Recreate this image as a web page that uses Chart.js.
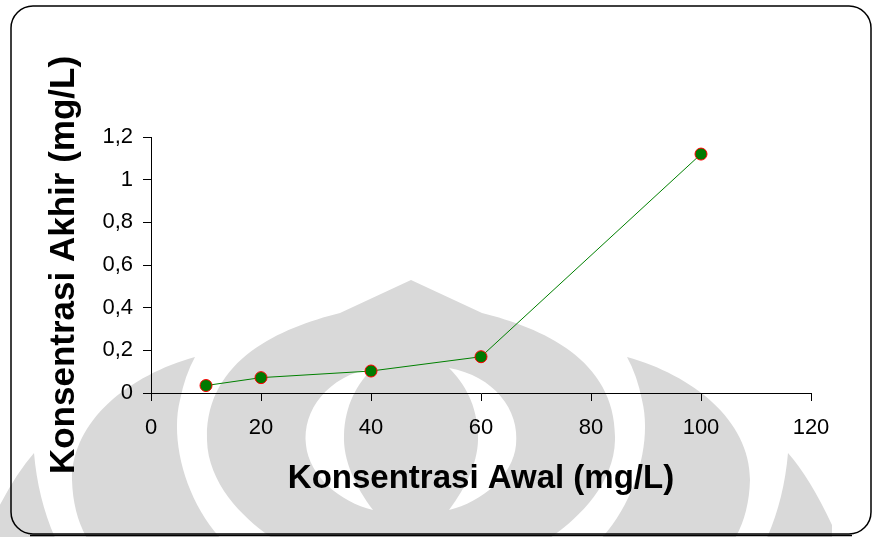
<!DOCTYPE html>
<html>
<head>
<meta charset="utf-8">
<script src="https://cdn.jsdelivr.net/npm/chart.js@4.4.0/dist/chart.umd.min.js"></script>
<style>
    html, body { margin: 0; padding: 0; background: #fff; }
    #wrap { width: 874px; height: 537px; }
</style>
</head>
<body>
<div id="wrap"><canvas id="konsChart" width="874" height="537"></canvas></div>
<script>
// data
const konsAwal = [10, 20, 40, 60, 100];
const konsAkhir = [0.035, 0.072, 0.103, 0.17, 1.12];
const xTickLabels = ["0", "20", "40", "60", "80", "100", "120"];
const yTickLabels = ["0", "0,2", "0,4", "0,6", "0,8", "1", "1,2"];

const FONT = "'Liberation Sans', Arial, sans-serif";
const WM_GREY = "#d9d9d9";

// faint logo watermark + rounded frame behind the plot
const backdrop = {
    id: "backdrop",
    beforeDraw(chart) {
        const ctx = chart.ctx;
        ctx.save();
        ctx.fillStyle = "#fff";
        ctx.fillRect(0, 0, chart.width, chart.height);

        const halves = [1, -1];
        ctx.fillStyle = WM_GREY;
        halves.forEach(s => {
            ctx.save();
            if (s < 0) { ctx.translate(822, 0); ctx.scale(-1, 1); }
            // outer lobe
            ctx.beginPath();
            ctx.moveTo(34, 453);
            ctx.quadraticCurveTo(38, 500, 56, 540);
            ctx.lineTo(-10, 540);
            ctx.lineTo(-10, 525);
            ctx.quadraticCurveTo(12, 478, 34, 453);
            ctx.fill();
            // crescent
            ctx.beginPath();
            ctx.moveTo(195, 357);
            ctx.bezierCurveTo(130, 375, 72, 420, 72, 480);
            ctx.quadraticCurveTo(73, 515, 88, 540);
            ctx.lineTo(222, 540);
            ctx.bezierCurveTo(185, 500, 170, 440, 180, 400);
            ctx.quadraticCurveTo(185, 375, 195, 357);
            ctx.fill();
            ctx.restore();
        });

        // central dome
        ctx.beginPath();
        ctx.moveTo(411, 280);
        ctx.lineTo(340, 313);
        ctx.bezierCurveTo(280, 328, 205, 360, 207, 440);
        ctx.bezierCurveTo(208, 485, 245, 520, 275, 540);
        ctx.lineTo(547, 540);
        ctx.bezierCurveTo(577, 520, 614, 485, 615, 440);
        ctx.bezierCurveTo(617, 360, 542, 328, 482, 313);
        ctx.closePath();
        ctx.fill();

        ctx.fillStyle = "#fff";
        halves.forEach(s => {
            ctx.save();
            if (s < 0) { ctx.translate(822, 0); ctx.scale(-1, 1); }
            ctx.beginPath();
            ctx.moveTo(373, 368);
            ctx.bezierCurveTo(328, 376, 302, 410, 306, 445);
            ctx.bezierCurveTo(309, 476, 340, 502, 373, 510);
            ctx.bezierCurveTo(355, 486, 343, 460, 344, 435);
            ctx.bezierCurveTo(345, 405, 357, 384, 373, 368);
            ctx.fill();
            ctx.restore();
        });

        // frame
        ctx.strokeStyle = "#000";
        ctx.lineWidth = 1.5;
        ctx.beginPath();
        ctx.roundRect(11, 6, 860, 528, 22);
        ctx.stroke();
        ctx.beginPath();
        ctx.moveTo(30, 535.5);
        ctx.lineTo(852, 535.5);
        ctx.stroke();
        ctx.restore();
    }
};

new Chart(document.getElementById("konsChart"), {
    type: "scatter",
    data: {
        datasets: [{
            data: konsAwal.map((x, i) => ({ x: x, y: konsAkhir[i] })),
            showLine: true,
            borderColor: "#008000",
            borderWidth: 1,
            pointRadius: 6,
            pointHoverRadius: 6,
            pointBackgroundColor: "#007a00",
            pointBorderColor: "#ff0000",
            pointBorderWidth: 1
        }]
    },
    options: {
        responsive: false,
        animation: false,
        events: [],
        layout: { padding: { left: 0, top: 137, right: 63, bottom: 0 } },
        plugins: {
            legend: { display: false },
            tooltip: { enabled: false }
        },
        scales: {
            x: {
                type: "linear",
                min: 0,
                max: 120,
                afterFit: (s) => { s.height = 144; },
                grid: { drawOnChartArea: false, drawTicks: true, tickLength: 8, color: "#000" },
                border: { color: "#000", width: 1 },
                ticks: {
                    stepSize: 20,
                    color: "#000",
                    padding: 14,
                    maxRotation: 0,
                    font: { family: FONT, size: 22 },
                    callback: (v, i) => xTickLabels[i]
                },
                title: {
                    display: true,
                    text: "Konsentrasi Awal (mg/L)",
                    color: "#000",
                    font: { family: FONT, size: 33, weight: "bold" },
                    padding: { top: 0, bottom: 38 }
                }
            },
            y: {
                min: 0,
                max: 1.2,
                afterFit: (s) => { s.width = 151; },
                grid: { drawOnChartArea: false, drawTicks: true, tickLength: 8, color: "#000" },
                border: { color: "#000", width: 1 },
                ticks: {
                    stepSize: 0.2,
                    color: "#000",
                    padding: 10,
                    font: { family: FONT, size: 22 },
                    callback: (v, i) => yTickLabels[i]
                },
                title: {
                    display: true,
                    text: "Konsentrasi Akhir (mg/L)",
                    color: "#000",
                    font: { family: FONT, size: 35, weight: "bold" },
                    padding: { top: 43, bottom: 0 }
                }
            }
        }
    },
    plugins: [backdrop]
});
</script>
</body>
</html>
